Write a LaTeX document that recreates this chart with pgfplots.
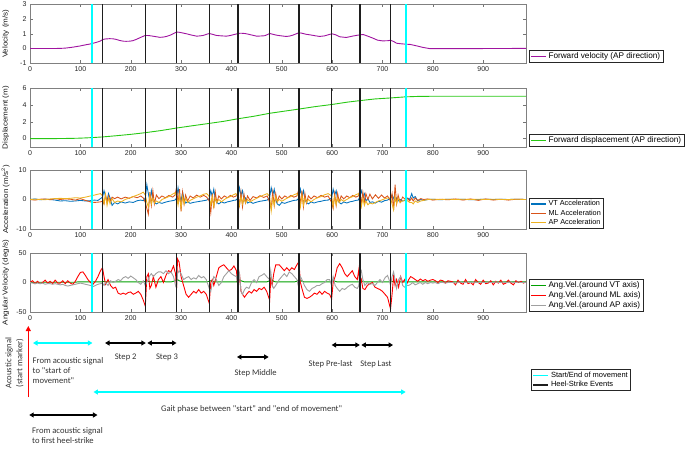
\documentclass[border=0pt]{standalone}
\usepackage{fontspec}
\setmainfont{Liberation Sans}
\newfontfamily\calib{Carlito}
\newfontfamily\labfont[FakeStretch=1.12]{Liberation Sans}
\usepackage{pgfplots}
\usepackage{pgfplotstable}
\pgfplotsset{compat=1.18}
\usetikzlibrary{arrows.meta}

\definecolor{velc}{RGB}{160,20,160}
\definecolor{dispc}{RGB}{40,200,20}
\definecolor{vtc}{rgb}{0,0.447,0.741}
\definecolor{mlc}{rgb}{0.85,0.325,0.098}
\definecolor{apc}{rgb}{0.929,0.694,0.125}
\definecolor{gvt}{RGB}{0,160,0}
\definecolor{gml}{RGB}{255,0,0}
\definecolor{ggr}{RGB}{160,160,160}
\definecolor{cyanl}{RGB}{0,255,255}
\definecolor{hsc}{RGB}{30,30,30}

\pgfplotstableread{
x v
0 0
20 0
40 0
60 0.01
70 0.03
80 0.07
90 0.12
100 0.18
110 0.25
118 0.3
125 0.36
132 0.42
139 0.5
145 0.62
150 0.65
158 0.67
165 0.66
170 0.63
178 0.55
185 0.5
191 0.49
198 0.5
204 0.53
211 0.62
218 0.73
224 0.82
229 0.89
236 0.88
244 0.84
251 0.8
258 0.76
265 0.78
271 0.82
278 0.9
284 1.0
291 1.12
297 1.1
304 1.05
311 1.0
320 0.92
331 0.84
338 0.86
344 0.89
350 0.96
356 1.02
362 0.97
370 0.89
380 0.86
390 0.84
397 0.88
403 0.93
410 0.99
417 1.04
424 1.03
430 1.0
440 0.92
450 0.84
458 0.85
466 0.87
471 0.94
476 1.02
482 0.97
489 0.91
499 0.86
509 0.82
516 0.85
522 0.91
528 0.99
534 1.07
540 1.04
548 0.97
556 0.93
566 0.87
575 0.82
585 0.86
595 0.96
600 1.0
608 0.92
615 0.8
628 0.75
640 0.84
648 0.89
655 0.93
662 0.95
670 0.85
680 0.72
690 0.57
700 0.52
710 0.53
716 0.56
722 0.48
728 0.36
735 0.33
745 0.3
755 0.28
768 0.18
780 0.08
793 0.0
820 -0.01
900 0
985 0.01
}\vel

\pgfplotstableread{
x d
0 0
50 0
80 0.02
100 0.05
125 0.12
145 0.2
170 0.33
200 0.5
229 0.7
260 0.95
291 1.25
320 1.5
356 1.8
385 2.05
413 2.35
445 2.65
476 3.0
505 3.25
534 3.5
565 3.78
599 4.04
630 4.32
655 4.5
685 4.7
716 4.82
746 4.95
770 5.0
800 5.02
985 5.02
}\disp

\pgfplotstableread{
x vt ml ap
0 0 0 0
10 0.2 -0.2 0.1
20 -0.1 0.1 0
30 0.1 0.2 -0.1
40 0 -0.1 0.2
50 -0.2 0.3 0.3
60 -0.5 0 0.4
70 -0.4 0.2 0.3
80 -0.6 0.1 0.4
90 -0.5 -0.2 0.6
100 -0.3 0.3 0.5
110 -0.5 -0.3 0.8
120 -0.4 -0.8 1.2
128 -0.2 -1.0 1.5
135 -0.3 -0.9 1.8
140 0.3 -0.8 2.0
144 0.8 -0.6 1.2
147 3.0 -1.5 -1.5
150 1.0 1.5 1.8
153 -0.5 -1.0 -2.0
156 2.0 1.2 0.5
159 0.5 -0.5 -1.5
163 -2.0 0.8 0.3
168 -1.0 0.3 -1.0
174 -1.5 0.8 -0.5
181 -0.8 0.2 -0.8
189 -1.2 0.8 0.0
197 -0.8 0.4 0.5
205 -1.0 1.0 1.0
213 -0.4 0.6 1.5
220 -0.2 1.2 2.0
225 -0.4 0.5 2.5
229 0.5 -1.0 1.5
232 5.0 -3.0 -1.0
235 2.0 -5.0 -2.5
238 -0.5 2.5 1.5
241 3.0 -2.0 -1.5
244 0.0 3.0 0.5
247 -1.0 -1.5 -1.2
251 -1.5 1.5 -0.5
256 -1.0 0.3 -1.0
262 -1.3 1.2 0.0
269 -0.9 0.6 0.5
276 -0.6 1.4 1.0
283 -0.4 0.8 1.8
288 -0.2 1.5 2.3
291 0.5 4.0 1.0
294 4.0 -1.5 -2.0
297 1.0 3.5 1.5
300 -0.5 -4.0 -3.0
303 2.5 2.5 1.0
306 0.0 -1.5 -1.5
309 -1.2 1.5 0.5
313 -0.8 -0.5 -1.0
318 -1.3 1.2 -0.3
324 -1.0 0.5 0.2
331 -0.8 1.5 0.8
338 -0.6 0.8 1.2
345 -0.4 1.4 1.8
351 -0.2 0.8 2.0
356 0.3 -0.5 1.0
359 3.0 -4.5 -2.0
362 1.0 2.0 1.0
365 3.5 -3.0 -2.5
368 0.0 2.5 0.5
371 -1.0 -1.0 -1.0
375 -1.5 1.2 0.0
380 -0.8 0.2 -0.8
386 -1.2 1.2 0.0
392 -0.8 0.6 0.6
398 -0.6 1.4 1.0
404 -0.3 0.8 1.6
409 -0.2 1.2 2.0
413 0.5 1.5 1.0
416 4.0 -2.0 -2.0
419 1.5 2.5 1.0
422 3.0 -2.5 -1.5
425 -0.5 1.8 0.5
428 0.5 -1.2 -1.2
432 -1.2 1.2 0.0
437 -0.8 -0.3 -0.8
443 -1.3 1.0 -0.2
450 -0.9 0.5 0.4
457 -0.6 1.3 1.0
464 -0.4 0.7 1.5
471 -0.2 1.2 2.0
476 0.8 -1.0 1.0
479 4.0 -3.0 -4.0
482 1.5 2.5 0.5
485 3.5 -2.0 -2.0
488 0.0 2.0 1.0
491 -1.5 -0.8 -0.8
495 -2.0 1.2 0.0
500 -1.0 0.2 -0.6
506 -1.3 1.2 0.0
512 -0.9 0.6 0.6
518 -0.6 1.4 1.0
524 -0.3 0.8 1.6
530 -0.2 1.2 2.0
534 0.5 3.5 1.0
537 3.5 -2.0 -2.5
540 1.0 3.0 1.5
543 3.0 -2.5 -2.0
546 0.0 2.0 0.5
549 -1.0 -1.2 -1.0
553 -1.5 1.2 0.0
558 -0.8 0.2 -0.8
564 -1.2 1.2 0.0
571 -0.8 0.6 0.6
578 -0.6 1.4 1.0
585 -0.3 0.8 1.6
592 -0.2 1.2 2.0
599 0.5 -1.0 1.2
602 3.5 -3.0 -2.5
605 1.5 2.0 1.0
608 3.0 -2.0 -1.8
611 0.0 2.0 0.5
614 -1.0 -0.8 -1.0
618 -1.5 1.2 0.0
623 -0.8 0.2 -0.6
629 -1.2 1.2 0.0
635 -0.8 0.6 0.6
641 -0.6 1.4 1.0
647 -0.3 0.8 1.6
652 -0.2 1.2 2.0
655 1.0 3.0 0.5
658 3.0 -1.5 -2.5
661 1.0 2.5 0.5
664 2.0 -1.0 -2.0
667 -0.5 2.0 -0.5
671 0.3 0.0 -1.8
675 -1.0 1.8 -1.2
680 -0.8 0.2 -1.5
686 -1.2 1.6 -1.0
692 -0.6 0.4 -0.5
698 -0.9 1.5 -0.2
704 -0.4 0.5 0.2
710 -0.2 1.2 0.5
716 0.5 -0.5 0.5
719 1.5 2.0 -1.5
722 0.5 -3.5 -3.5
725 -0.5 5.0 1.0
728 0.5 -1.5 -1.5
731 -0.5 1.5 0.5
735 0.0 -1.0 -1.0
740 -0.5 0.8 -0.5
746 -0.3 0.0 0.0
750 0.5 0.3 -0.5
754 0.0 -0.5 -1.0
758 2.0 0.5 -1.0
761 0.5 -0.5 -1.5
765 1.0 0.5 -0.5
770 -0.5 -0.3 -1.0
776 0.0 0.3 -0.5
782 -0.3 0.0 -0.3
790 0.0 0.2 0.0
800 0.1 -0.2 0.1
815 -0.1 0.1 0
830 0.1 -0.1 0.1
845 0 0.2 0
860 0.1 -0.2 0.1
875 -0.1 0.2 0
890 0 -0.3 0.1
905 0.1 0.2 0
920 0 -0.2 0.1
935 0.1 0.1 0
950 0 -0.2 0
965 0.1 0.1 0.1
985 0 0 0
}\acc

\pgfplotstableread{
x vt ml ap
0 0 0 0
5 0.5 3 -1
10 0.5 -2 -2
15 0.5 2 -1
20 0.5 -2 -2
25 0.5 0 -1
30 0.5 4 -3
35 0.5 -1 -2
40 0.5 2 -2
45 0.5 -2 -3
50 0.5 4 -2
55 0.5 -1 -3
60 0.5 -1 -4
65 0.5 3 -3
70 0.5 -2 -5
75 0.5 3 -6
80 0.5 -1 -5
85 0.5 -3 -4
90 0.5 2 -3
95 1 10 -2
100 1 17 -1
105 1 18 -2
110 1 12 -3
115 1 5 -4
120 1 0 -5
125 1 -3 -7
130 1 2 -5
135 1 10 -3
140 1 20 -2
144 1 25 -1
147 2 10 -5
150 1 -3 0
155 1 5 -5
160 1 -5 3
165 1 -10 0
170 1 -8 2
175 1 -18 5
180 1 -20 3
185 1 -18 8
190 1 -20 10
195 1 -17 7
200 1 -16 11
205 1 -20 8
210 1 -18 5
215 1 -15 0
220 1 -20 -3
225 1 -30 3
229 2 -40 -5
232 3 10 0
235 2 15 5
238 1 -10 12
241 1 -5 15
245 2 10 10
250 1 -8 15
255 1 5 18
260 1 10 18
265 2 0 15
270 1 12 20
275 1 20 15
280 1 18 18
285 2 28 10
289 3 15 -5
291 3 -10 -10
293 5 40 15
296 3 35 20
300 2 10 15
305 1 -5 5
310 1 -20 8
315 1 -25 10
320 1 -20 5
325 1 -15 8
330 1 -18 6
335 1 -12 12
340 1 -18 8
345 1 -15 10
350 1 -20 5
356 2 -35 -10
359 3 0 -15
362 2 5 0
365 1 -5 10
370 1 10 5
375 1 25 -5
380 1 28 0
385 1 30 10
390 1 25 15
395 1 20 20
400 1 22 15
405 1 28 12
410 1 20 10
413 4 -10 -5
416 5 15 15
419 3 -15 -15
422 2 -20 -20
426 1 -25 -12
430 1 -20 -8
435 1 -15 -10
440 1 -18 0
445 1 -12 5
450 1 -15 0
455 1 -10 10
460 1 -12 12
465 1 -8 15
470 1 -15 10
476 3 -30 5
478 8 5 20
481 4 -5 -5
484 2 15 -10
488 1 30 -5
495 1 30 5
500 1 25 10
505 1 20 15
510 1 25 10
515 1 20 18
520 1 25 15
525 1 22 10
530 2 30 5
534 5 35 -10
537 4 0 10
540 2 -10 5
545 1 -25 -5
550 1 -27 -12
555 1 -25 -15
560 1 -22 -10
565 1 -18 -8
570 1 -20 -5
575 1 -15 -5
580 1 -20 -2
585 1 -15 0
590 1 -18 5
595 1 -20 5
599 2 -28 -5
602 3 0 10
606 2 10 -5
610 1 25 -10
615 1 32 -15
620 1 25 -10
625 1 15 -12
630 1 10 -8
635 1 15 -5
640 1 20 -3
645 1 10 -8
650 1 5 -10
653 1 22 -5
655 2 -5 15
658 3 5 20
661 2 -10 5
665 1 -12 -5
670 1 -5 0
675 1 -2 -3
680 1 0 -2
685 1 -8 -5
690 1 -10 0
695 1 -12 5
700 1 -15 0
705 1 -20 8
710 1 -25 12
713 1 -35 5
716 2 -45 -5
719 2 -20 10
722 1 10 18
725 1 -5 5
728 1 5 -10
732 1 -8 5
736 1 10 10
740 1 0 -5
744 1 5 -8
748 1 -3 -5
752 1 5 -5
756 1 10 -3
760 1 8 0
765 1 5 -4
770 1 2 -2
775 1 6 0
780 1 3 -3
785 1 5 0
790 1 2 -2
795 1 4 0
800 1 5 -1
805 1 3 0
810 1 0 -2
815 1 4 0
820 1 3 0
825 1 -1 -1
830 1 3 0
840 1 1 0
845 1 -4 -1
850 1 4 0
855 1 -1 1
860 1 -3 0
865 1 5 0
870 1 -2 1
875 1 0 0
880 1 -4 1
885 1 5 0
890 1 0 0
895 1 -3 1
900 1 4 0
905 1 -2 0
910 1 -1 1
915 1 3 0
920 1 -4 0
925 1 2 1
930 1 -1 0
935 1 4 0
940 1 -3 1
945 1 -1 0
950 1 4 0
955 1 -1 1
960 1 -4 0
965 1 3 0
970 1 0 1
975 1 2 0
980 1 -1 0
985 1 1 0
}\ang

\pgfplotsset{
  panel/.style={
    scale only axis, width=496pt, height=59pt,
    xmin=0, xmax=985, xtick={0,100,...,900},
    tick align=inside, major tick length=3pt,
    every tick/.style={black!55, line width=0.4pt},
    axis line style={black!50, line width=0.5pt},
    tick label style={font=\fontsize{7}{8}\selectfont, text=black!85},
    /pgf/number format/assume math mode=true,
    every axis y label/.style={at={(axis description cs:-0.049,0.5)}, rotate=90, anchor=center, font=\labfont\fontsize{7.2}{8}\selectfont, text=black!90},
    legend style={at={(1.006,0)}, anchor=south west, draw=black!85, line width=0.9pt, font=\fontsize{8.2}{9.5}\selectfont, inner xsep=1pt, inner ysep=0.5pt, row sep=-1.5pt},
    legend cell align=left,
    legend image code/.code={\draw[##1, line width=1.3pt] (0cm,0cm) -- (0.52cm,0cm);},
  },
  hs/.style={draw=hsc, line width=1.4pt, forget plot},
  se/.style={draw=cyanl, line width=2pt, forget plot},
}

\newcommand\events[2]{%
  \pgfplotsinvokeforeach{144,229,291,356,413,476,534,599,655,716}{\addplot[hs] coordinates {(##1,#1) (##1,#2)};}
  \addplot[se] coordinates {(124,#1) (124,#2)};
  \addplot[se] coordinates {(746,#1) (746,#2)};
}

\begin{document}
\begin{tikzpicture}
\useasboundingbox (0,0) rectangle (685pt,448pt);

% Panel 1: velocity
\begin{axis}[panel, at={(30pt,384.7pt)}, anchor=south west,
  ymin=-1, ymax=3, ytick={-1,0,1,2,3}, ylabel={Velocity (m/s)}]
\addplot[draw=velc, line width=0.9pt] table[x=x,y=v] {\vel};
\addlegendentry{Forward velocity (AP direction)}
\events{-1}{3}
\end{axis}

% Panel 2: displacement
\begin{axis}[panel, at={(30pt,301pt)}, anchor=south west,
  ymin=-1, ymax=6, ytick={0,2,4,6}, ylabel={Displacement (m)}]
\addplot[draw=dispc, line width=0.9pt] table[x=x,y=d] {\disp};
\addlegendentry{Forward displacement (AP direction)}
\events{-1}{6}
\end{axis}

% Panel 3: acceleration
\begin{axis}[panel, at={(30pt,219pt)}, anchor=south west,
  ymin=-10, ymax=10, ytick={-10,0,10}, ylabel={Acceleration (m/s\textsuperscript{2})},
  legend style={font=\fontsize{7.3}{8.5}\selectfont}]
\addplot[draw=vtc, line width=0.85pt] table[x=x,y=vt] {\acc};
\addlegendentry{VT Acceleration}
\addplot[draw=mlc, line width=0.85pt] table[x=x,y=ml] {\acc};
\addlegendentry{ML Acceleration}
\addplot[draw=apc, line width=0.85pt] table[x=x,y=ap] {\acc};
\addlegendentry{AP Acceleration}
\events{-10}{10}
\end{axis}

% Panel 4: angular velocity
\begin{axis}[panel, at={(30pt,136pt)}, anchor=south west,
  ymin=-50, ymax=50, ytick={-50,0,50}, ylabel={Angular Velocity (deg/s)}]
\addplot[draw=gvt, line width=0.9pt] table[x=x,y=vt] {\ang};
\addlegendentry{Ang.Vel.(around VT axis)}
\addplot[draw=gml, line width=0.9pt] table[x=x,y=ml] {\ang};
\addlegendentry{Ang.Vel.(around ML axis)}
\addplot[draw=ggr, line width=0.9pt] table[x=x,y=ap] {\ang};
\addlegendentry{Ang.Vel.(around AP axis)}
\events{-50}{50}
\end{axis}

% Annotation area
\begin{axis}[scale only axis, width=496pt, height=128pt, at={(30pt,0pt)}, anchor=south west,
  xmin=0, xmax=985, ymin=320, ymax=448, y dir=reverse, hide axis, clip=false,
  legend style={at={(1.0101,0.617)}, anchor=north west, draw=black!85, line width=0.9pt,
    font=\fontsize{7.5}{8.5}\selectfont, inner xsep=1pt, inner ysep=0.5pt, row sep=-1.5pt},
  legend cell align=left,
  legend image code/.code={\draw[#1] (0cm,0cm) -- (0.52cm,0cm);}]
\addlegendimage{draw=cyanl, line width=1.8pt}
\addlegendentry{Start/End of movement}
\addlegendimage{draw=hsc, line width=1.3pt}
\addlegendentry{Heel-Strike Events}

\tikzset{
  darr/.style={{Triangle[length=4.5pt,width=5pt]}-{Triangle[length=4.5pt,width=5pt]}, draw=black, fill=black, line width=1.3pt},
  carr/.style={{Triangle[length=4.5pt,width=5pt]}-{Triangle[length=4.5pt,width=5pt]}, draw=cyanl, fill=cyanl, line width=1.5pt},
  lab/.style={font=\calib\fontsize{8.6}{10}\selectfont, text=black!80, inner sep=0pt},
}
% red acoustic marker arrow
\draw[-{Triangle[length=5pt,width=5pt]}, draw=red, fill=red, line width=1pt] (axis cs:-3.4,397) -- (axis cs:-3.4,326);
\node[lab, rotate=90, align=center, font=\calib\fontsize{8.6}{11}\selectfont] at (axis cs:-31,363) {Acoustic signal\\(start marker)};

\draw[carr] (axis cs:6,343) -- (axis cs:124,343);
\node[lab, anchor=north west, align=left] at (axis cs:5,357) {From acoustic signal\\to "start of\\movement"};

\draw[darr] (axis cs:149,343) -- (axis cs:230,343);
\draw[darr] (axis cs:233,343) -- (axis cs:291,343);
\node[lab] at (axis cs:190,357) {Step 2};
\node[lab] at (axis cs:272,357) {Step 3};

\draw[darr] (axis cs:411,357) -- (axis cs:474,357);
\node[lab] at (axis cs:448,373) {Step Middle};

\draw[darr] (axis cs:599,345) -- (axis cs:655,345);
\draw[darr] (axis cs:658,345) -- (axis cs:721,345);
\node[lab] at (axis cs:597,364) {Step Pre-last};
\node[lab] at (axis cs:687,364) {Step Last};

\draw[carr] (axis cs:126,392) -- (axis cs:746,392);
\node[lab] at (axis cs:440,409) {Gait phase between "start" and "end of movement"};

\draw[darr] (axis cs:-1.5,415) -- (axis cs:134,415);
\node[lab, anchor=north west, align=left] at (axis cs:4,427) {From acoustic signal\\to first heel-strike};
\end{axis}
\end{tikzpicture}
\end{document}
